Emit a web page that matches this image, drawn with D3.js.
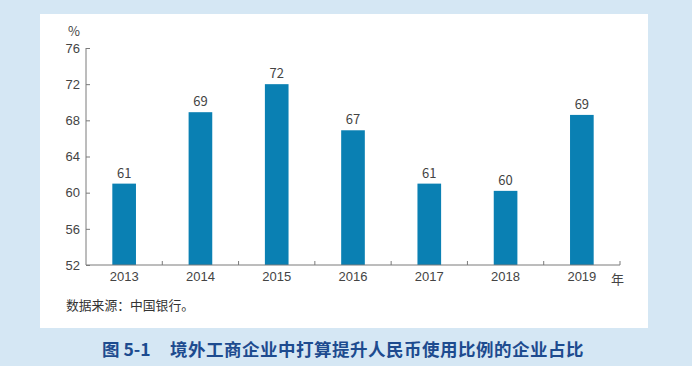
<!DOCTYPE html>
<html>
<head>
<meta charset="utf-8">
<script src="https://cdn.jsdelivr.net/npm/d3@7"></script>
<style>
  html, body { margin: 0; padding: 0; background: #d5e7f4; }
  svg { display: block; font-family: "Noto Sans CJK SC", "Noto Sans", sans-serif; }
</style>
</head>
<body>
<svg id="chart" width="692" height="366"></svg>
<script>
// chart data
const years = ["2013", "2014", "2015", "2016", "2017", "2018", "2019"];
const shares = [61, 68.9, 72, 66.9, 61, 60.2, 68.6];
const shareLabels = ["61", "69", "72", "67", "61", "60", "69"];
const yTicks = [52, 56, 60, 64, 68, 72, 76];

const width = 692, height = 366;
const margin = { top: 48, right: 72, bottom: 101, left: 86 };
const innerW = width - margin.left - margin.right;
const innerH = height - margin.top - margin.bottom;

const svg = d3.select("#chart");

// white panel behind the plot
svg.append("rect")
  .attr("x", 40).attr("y", 14)
  .attr("width", 608).attr("height", 314)
  .attr("fill", "#fff");

const g = svg.append("g")
  .attr("transform", "translate(" + margin.left + "," + margin.top + ")");

const x = d3.scaleBand().domain(years).range([0, innerW]);
const y = d3.scaleLinear().domain([52, 76]).range([innerH, 0]);
const barW = x.bandwidth() * 0.31;

// bars
g.selectAll("rect.bar")
  .data(years)
  .enter().append("rect")
  .attr("class", "bar")
  .attr("x", (d) => x(d) + (x.bandwidth() - barW) / 2)
  .attr("y", (d, i) => y(shares[i]))
  .attr("width", barW)
  .attr("height", (d, i) => innerH - y(shares[i]))
  .attr("fill", "#0a80b3");

// value labels
g.selectAll("text.val")
  .data(years)
  .enter().append("text")
  .attr("class", "val")
  .attr("x", (d) => x(d) + x.bandwidth() / 2)
  .attr("y", (d, i) => y(shares[i]) - 6)
  .attr("text-anchor", "middle")
  .attr("font-size", 13)
  .attr("fill", "#444")
  .text((d, i) => shareLabels[i]);

const axisColor = "#7a7a7a";

// y axis, ticks point inward
const yAxis = g.append("g")
  .call(d3.axisRight(y).tickValues(yTicks).tickSize(4).tickFormat(d3.format("d")));
yAxis.select(".domain").attr("stroke", axisColor).attr("d", "M0," + innerH + "V0");
yAxis.selectAll(".tick line").attr("stroke", axisColor);
yAxis.selectAll(".tick text")
  .attr("x", -6).attr("text-anchor", "end")
  .attr("font-size", 13).attr("fill", "#444")
  .attr("font-family", null);

// x axis: baseline plus boundary ticks pointing up
const xAxis = g.append("g")
  .attr("transform", "translate(0," + innerH + ")")
  .call(d3.axisBottom(x).tickSize(0).tickPadding(7));
xAxis.select(".domain").attr("stroke", axisColor).attr("d", "M0,0H" + innerW);
xAxis.selectAll(".tick text")
  .attr("font-size", 13).attr("fill", "#444")
  .attr("font-family", null);

g.selectAll("line.bound")
  .data(years.slice(1).concat(["end"]))
  .enter().append("line")
  .attr("class", "bound")
  .attr("x1", (d) => d === "end" ? innerW : x(d))
  .attr("x2", (d) => d === "end" ? innerW : x(d))
  .attr("y1", innerH).attr("y2", innerH - 4)
  .attr("stroke", axisColor);

// unit labels
g.append("text")
  .attr("x", -6).attr("y", -12)
  .attr("text-anchor", "end")
  .attr("font-size", 13).attr("fill", "#444")
  .text("%");

g.append("text")
  .attr("x", innerW - 9).attr("y", innerH + 19)
  .attr("font-size", 13).attr("fill", "#444")
  .text("年");

// source note
svg.append("text")
  .attr("x", 66).attr("y", 310)
  .attr("font-size", 12.8).attr("fill", "#333")
  .text("数据来源：中国银行。");

// figure title
const title = svg.append("text")
  .attr("y", 356)
  .attr("font-size", 17.5).attr("font-weight", "bold")
  .attr("fill", "#1d4b8f");
title.append("tspan").attr("x", 102).text("图 5-1");
title.append("tspan").attr("x", 170).attr("letter-spacing", "0.5")
  .text("境外工商企业中打算提升人民币使用比例的企业占比");
</script>
</body>
</html>
